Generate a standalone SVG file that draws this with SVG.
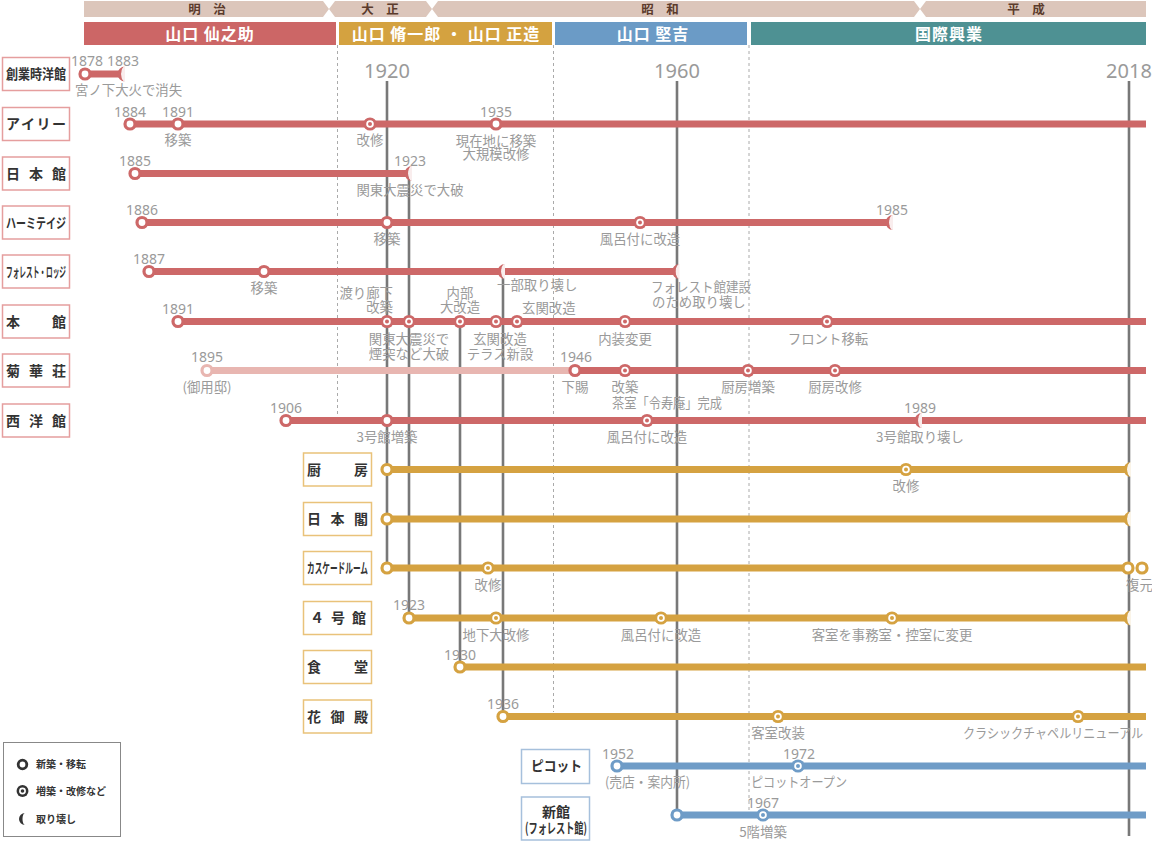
<svg xmlns="http://www.w3.org/2000/svg" width="1152" height="841" viewBox="0 0 1152 841">
<style>
text{font-family:"Noto Sans CJK JP","Noto Sans",sans-serif}
.era{fill:#dcc6bb}
.et{font-size:12.5px;font-weight:700;fill:#5b3b2c;text-anchor:middle}
.ot{font-size:16px;font-weight:700;fill:#fff;text-anchor:middle;letter-spacing:1px}
.big{font-family:"Noto Sans",sans-serif;font-size:20px;fill:#9a9a9a;text-anchor:middle}
.yr{font-family:"Noto Sans",sans-serif;font-size:14px;fill:#9a9a9a;text-anchor:middle}
.an{font-size:13.4px;fill:#9a9a9a;text-anchor:middle}
.st{text-anchor:start}
.en{text-anchor:end}
.gv{stroke:#787878;stroke-width:2.6}
.dl{stroke:#aaa;stroke-width:1;stroke-dasharray:3 3}
.ln{stroke:currentColor;stroke-width:7;fill:none}
.cr{color:#cd6868}
.cp{color:#e8b6b1}
.co{color:#d5a241}
.cb{color:#6f9cc7}
.box{fill:#fff;stroke-width:1.5}
.br{stroke:#e59e9e}
.bo{stroke:#e9c27a}
.bb{stroke:#a6c0dc}
.bt{font-size:14px;font-weight:700;fill:#333}
.lg{font-size:10px;font-weight:700;fill:#333}
</style>
<defs>
<circle id="o" r="5" fill="#fff" stroke="currentColor" stroke-width="3.2"/>
<g id="m"><circle r="6.6" fill="currentColor"/><circle r="3.8" fill="#fff"/><circle r="2" fill="currentColor"/></g>
<g id="d"><path d="M1,-7.5A4,7.5 0 0 0 1,7.5Z" fill="#fff"/><path d="M1,-7.5A4,7.5 0 0 0 1,7.5Z" fill="currentColor" fill-opacity="0.12"/><path d="M1,-7.5A7.5,7.5 0 0 0 1,7.5A4,7.5 0 0 1 1,-7.5Z" fill="currentColor"/></g>
</defs>

<g id="header">
<polygon class="era" points="84,1 323,1 329,9 323,17 84,17"/>
<polygon class="era" points="335,1 426,1 432,9 426,17 335,17 329,9"/>
<polygon class="era" points="438,1 914,1 920,9 914,17 438,17 432,9"/>
<polygon class="era" points="926,1 1146,1 1146,17 926,17 920,9"/>
<text class="et" x="207" y="13.5">明　治</text>
<text class="et" x="380" y="13.5">大　正</text>
<text class="et" x="660" y="13.5">昭　和</text>
<text class="et" x="1026" y="13.5">平　成</text>
<rect x="84" y="22" width="252" height="23" fill="#cc6666"/>
<rect x="339" y="22" width="213" height="23" fill="#d4a240"/>
<rect x="555" y="22" width="192" height="23" fill="#6b9bc6"/>
<rect x="751" y="22" width="395" height="23" fill="#4e9193"/>
<text class="ot" x="210" y="39.5">山口 仙之助</text>
<text class="ot" x="446" y="39.5">山口 脩一郎 ・ 山口 正造</text>
<text class="ot" x="653" y="39.5">山口 堅吉</text>
<text class="ot" x="949" y="39.5">国際興業</text>
<text class="big" x="387" y="78">1920</text>
<text class="big" x="677" y="78">1960</text>
<text class="big" x="1129" y="78">2018</text>
</g>

<g id="connectors">
<line class="dl" x1="337.5" y1="45" x2="337.5" y2="418"/>
<line class="dl" x1="553.5" y1="45" x2="553.5" y2="712"/>
<line class="dl" x1="749" y1="45" x2="749" y2="812"/>
<line class="gv" x1="387" y1="81" x2="387" y2="568"/>
<line class="gv" x1="409" y1="174" x2="409" y2="618"/>
<line class="gv" x1="460" y1="322" x2="460" y2="667"/>
<line class="gv" x1="503" y1="272" x2="503" y2="717"/>
<line class="gv" x1="677" y1="81" x2="677" y2="815"/>
<line class="gv" x1="1129" y1="81" x2="1129" y2="836"/>
</g>

<g id="sogyo">
<rect class="box br" x="2.5" y="57.5" width="67" height="33"/>
<text class="bt" x="6" y="79" textLength="60" lengthAdjust="spacingAndGlyphs">創業時洋館</text>
<line class="ln cr" x1="85" y1="74" x2="122" y2="74"/>
<use href="#o" x="85" y="74" class="cr"/>
<use href="#d" x="124" y="74" class="cr"/>
<text class="yr" x="87" y="66">1878</text>
<text class="yr" x="123" y="66">1883</text>
<text class="an st" x="75" y="95">宮ノ下大火で消失</text>
</g>

<g id="airy">
<rect class="box br" x="2.5" y="107.5" width="67" height="33"/>
<text class="bt" x="6" y="129" textLength="60" lengthAdjust="spacing">アイリー</text>
<line class="ln cr" x1="130" y1="124" x2="1146" y2="124"/>
<use href="#o" x="130" y="124" class="cr"/>
<use href="#o" x="178" y="124" class="cr"/>
<use href="#m" x="370" y="124" class="cr"/>
<use href="#o" x="496" y="124" class="cr"/>
<text class="yr" x="130" y="116.5">1884</text>
<text class="yr" x="178" y="116.5">1891</text>
<text class="an" x="178" y="145">移築</text>
<text class="an" x="370" y="145">改修</text>
<text class="yr" x="496" y="116.5">1935</text>
<text class="an" x="496" y="145.5">現在地に移築</text>
<text class="an" x="496" y="159">大規模改修</text>
</g>

<g id="nihonkan">
<rect class="box br" x="2.5" y="157" width="67" height="33"/>
<text class="bt" x="6" y="178.5" textLength="60" lengthAdjust="spacing">日本館</text>
<line class="ln cr" x1="135" y1="173.5" x2="408.5" y2="173.5"/>
<use href="#o" x="135" y="173.5" class="cr"/>
<use href="#d" x="411" y="173.5" class="cr"/>
<text class="yr" x="135" y="166">1885</text>
<text class="yr" x="410" y="166">1923</text>
<text class="an" x="410" y="195">関東大震災で大破</text>
</g>

<g id="hermitage">
<rect class="box br" x="2.5" y="206" width="67" height="33"/>
<text class="bt" x="6" y="227.5" textLength="60" lengthAdjust="spacingAndGlyphs">ハーミテイジ</text>
<line class="ln cr" x1="142" y1="222.5" x2="890" y2="222.5"/>
<use href="#o" x="142" y="222.5" class="cr"/>
<use href="#o" x="387" y="222.5" class="cr"/>
<use href="#m" x="640" y="222.5" class="cr"/>
<use href="#d" x="892" y="222.5" class="cr"/>
<text class="yr" x="142" y="215">1886</text>
<text class="an" x="387" y="244">移築</text>
<text class="an" x="640" y="244">風呂付に改造</text>
<text class="yr" x="892" y="215">1985</text>
</g>

<g id="forest-lodge">
<rect class="box br" x="2.5" y="255" width="67" height="33"/>
<text class="bt" x="6" y="276.5" textLength="60" lengthAdjust="spacingAndGlyphs">フォレスト・ロッジ</text>
<line class="ln cr" x1="149" y1="271.5" x2="676.5" y2="271.5"/>
<use href="#o" x="149" y="271.5" class="cr"/>
<use href="#o" x="264" y="271.5" class="cr"/>
<use href="#d" x="504" y="271.5" class="cr"/>
<use href="#d" x="678.5" y="271.5" class="cr"/>
<text class="yr" x="149" y="264">1887</text>
<text class="an" x="264" y="293">移築</text>
<text class="an st" x="497" y="290">一部取り壊し</text>
<text class="an st" x="651" y="292" textLength="100" lengthAdjust="spacingAndGlyphs">フォレスト館建設</text>
<text class="an st" x="652" y="306.5">のため取り壊し</text>
</g>

<g id="honkan">
<rect class="box br" x="2.5" y="305" width="67" height="33"/>
<text class="bt" x="6" y="326.5" textLength="60" lengthAdjust="spacing">本館</text>
<line class="ln cr" x1="178" y1="321.5" x2="1146" y2="321.5"/>
<use href="#o" x="178" y="321.5" class="cr"/>
<use href="#m" x="387" y="321.5" class="cr"/>
<use href="#m" x="409" y="321.5" class="cr"/>
<use href="#m" x="460" y="321.5" class="cr"/>
<use href="#m" x="496" y="321.5" class="cr"/>
<use href="#m" x="517" y="321.5" class="cr"/>
<use href="#m" x="625" y="321.5" class="cr"/>
<use href="#m" x="827" y="321.5" class="cr"/>
<text class="yr" x="178" y="314">1891</text>
<text class="an en" x="393" y="297.5">渡り廊下</text>
<text class="an en" x="393" y="312">改築</text>
<text class="an" x="460" y="297.5">内部</text>
<text class="an" x="460" y="312">大改造</text>
<text class="an st" x="522" y="313">玄関改造</text>
<text class="an" x="409" y="344">関東大震災で</text>
<text class="an" x="409" y="359">煙突など大破</text>
<text class="an" x="500" y="344">玄関改造</text>
<text class="an" x="500" y="359">テラス新設</text>
<text class="an" x="625" y="344">内装変更</text>
<text class="an" x="828" y="344">フロント移転</text>
</g>

<g id="kikkaso">
<rect class="box br" x="2.5" y="354" width="67" height="33"/>
<text class="bt" x="6" y="375.5" textLength="60" lengthAdjust="spacing">菊華荘</text>
<line class="ln cp" x1="207" y1="370.5" x2="575" y2="370.5"/>
<line class="ln cr" x1="575" y1="370.5" x2="1146" y2="370.5"/>
<use href="#o" x="207" y="370.5" class="cp"/>
<use href="#o" x="575" y="370.5" class="cr"/>
<use href="#m" x="625" y="370.5" class="cr"/>
<use href="#m" x="748" y="370.5" class="cr"/>
<use href="#m" x="835" y="370.5" class="cr"/>
<text class="yr" x="207" y="362">1895</text>
<text class="an" x="207" y="392">(御用邸)</text>
<text class="yr" x="576" y="362">1946</text>
<text class="an" x="575" y="392">下賜</text>
<text class="an" x="625" y="392">改築</text>
<text class="an st" x="612" y="407.5" textLength="110" lengthAdjust="spacingAndGlyphs">茶室「令寿庵」完成</text>
<text class="an" x="748" y="392">厨房増築</text>
<text class="an" x="835" y="392">厨房改修</text>
</g>

<g id="seiyokan">
<rect class="box br" x="2.5" y="404" width="67" height="33"/>
<text class="bt" x="6" y="425.5" textLength="60" lengthAdjust="spacing">西洋館</text>
<line class="ln cr" x1="286" y1="420.5" x2="1146" y2="420.5"/>
<use href="#o" x="286" y="420.5" class="cr"/>
<use href="#o" x="387" y="420.5" class="cr"/>
<use href="#m" x="647" y="420.5" class="cr"/>
<use href="#d" x="921" y="420.5" class="cr"/>
<text class="yr" x="286" y="413">1906</text>
<text class="an" x="387" y="442">3号館増築</text>
<text class="an" x="647" y="442">風呂付に改造</text>
<text class="yr" x="920" y="413">1989</text>
<text class="an" x="920" y="442">3号館取り壊し</text>
</g>

<g id="chubo">
<rect class="box bo" x="303.5" y="453" width="68" height="33"/>
<text class="bt" x="307" y="474.5" textLength="61" lengthAdjust="spacing">厨房</text>
<line class="ln co" x1="387" y1="469.5" x2="1128" y2="469.5"/>
<use href="#o" x="387" y="469.5" class="co"/>
<use href="#m" x="906" y="469.5" class="co"/>
<use href="#d" x="1130" y="469.5" class="co"/>
<text class="an" x="906" y="491">改修</text>
</g>

<g id="nihonkaku">
<rect class="box bo" x="303.5" y="502.5" width="68" height="33"/>
<text class="bt" x="307" y="524" textLength="61" lengthAdjust="spacing">日本閣</text>
<line class="ln co" x1="387" y1="519" x2="1128" y2="519"/>
<use href="#o" x="387" y="519" class="co"/>
<use href="#d" x="1130" y="519" class="co"/>
</g>

<g id="cascade-room">
<rect class="box bo" x="303.5" y="551.5" width="68" height="33"/>
<text class="bt" x="307" y="573" textLength="61" lengthAdjust="spacingAndGlyphs">カスケードルーム</text>
<line class="ln co" x1="387" y1="568" x2="1128" y2="568"/>
<use href="#o" x="387" y="568" class="co"/>
<use href="#m" x="488" y="568" class="co"/>
<use href="#o" x="1128" y="568" class="co"/>
<use href="#o" x="1142" y="568" class="co"/>
<text class="an" x="488" y="590">改修</text>
<text class="an st" x="1126" y="590">復元</text>
</g>

<g id="yongokan">
<rect class="box bo" x="303.5" y="601.5" width="68" height="33"/>
<text class="bt" x="310" y="623" textLength="56" lengthAdjust="spacing">４号館</text>
<line class="ln co" x1="409" y1="618" x2="1128" y2="618"/>
<use href="#o" x="409" y="618" class="co"/>
<use href="#m" x="496" y="618" class="co"/>
<use href="#m" x="661" y="618" class="co"/>
<use href="#m" x="892" y="618" class="co"/>
<use href="#d" x="1130" y="618" class="co"/>
<text class="yr" x="409" y="610">1923</text>
<text class="an" x="496" y="640">地下大改修</text>
<text class="an" x="661" y="640">風呂付に改造</text>
<text class="an" x="892" y="640">客室を事務室・控室に変更</text>
</g>

<g id="shokudo">
<rect class="box bo" x="303.5" y="650.5" width="68" height="33"/>
<text class="bt" x="307" y="672" textLength="61" lengthAdjust="spacing">食堂</text>
<line class="ln co" x1="460" y1="667" x2="1146" y2="667"/>
<use href="#o" x="460" y="667" class="co"/>
<text class="yr" x="460" y="659.5">1930</text>
</g>

<g id="hanagoten">
<rect class="box bo" x="303.5" y="700" width="68" height="33"/>
<text class="bt" x="307" y="721.5" textLength="61" lengthAdjust="spacing">花御殿</text>
<line class="ln co" x1="503" y1="716.5" x2="1146" y2="716.5"/>
<use href="#o" x="503" y="716.5" class="co"/>
<use href="#m" x="778" y="716.5" class="co"/>
<use href="#m" x="1078" y="716.5" class="co"/>
<text class="yr" x="503" y="709">1936</text>
<text class="an" x="778" y="738">客室改装</text>
<text class="an st" x="963" y="738" textLength="180" lengthAdjust="spacingAndGlyphs">クラシックチャペルリニューアル</text>
</g>

<g id="picot">
<rect class="box bb" x="521.5" y="749.5" width="68" height="34"/>
<text class="bt" x="531" y="771" textLength="51" lengthAdjust="spacingAndGlyphs">ピコット</text>
<line class="ln cb" x1="617" y1="766" x2="1146" y2="766"/>
<use href="#o" x="617" y="766" class="cb"/>
<use href="#m" x="798" y="766" class="cb"/>
<text class="yr" x="618" y="758.5">1952</text>
<text class="an st" x="605" y="787" textLength="85" lengthAdjust="spacingAndGlyphs">(売店・案内所)</text>
<text class="yr" x="799" y="758.5">1972</text>
<text class="an" x="799" y="787" textLength="96" lengthAdjust="spacingAndGlyphs">ピコットオープン</text>
</g>

<g id="shinkan">
<rect class="box bb" x="521.5" y="797" width="68" height="43"/>
<text class="bt" x="556" y="816.5" font-size="15" text-anchor="middle">新館</text>
<text class="bt" x="525" y="833" font-size="10" textLength="62" lengthAdjust="spacingAndGlyphs">(フォレスト館)</text>
<line class="ln cb" x1="677" y1="815" x2="1146" y2="815"/>
<use href="#o" x="677" y="815" class="cb"/>
<use href="#m" x="763" y="815" class="cb"/>
<text class="yr" x="763" y="807.5">1967</text>
<text class="an" x="763" y="837">5階増築</text>
</g>

<g id="legend" style="color:#333">
<rect x="3.5" y="742.5" width="117" height="94" fill="#fff" stroke="#888" stroke-width="1"/>
<circle cx="22.5" cy="764.5" r="4.3" fill="#fff" stroke="#333" stroke-width="2.8"/>
<use href="#m" x="22.5" y="791" transform="translate(22.5 791) scale(0.9) translate(-22.5 -791)"/>
<path d="M25,813A6,6 0 0 0 25,825A2.5,6 0 0 1 25,813Z" fill="#333"/>
<text class="lg" x="36" y="768">新築・移転</text>
<text class="lg" x="36" y="795">増築・改修など</text>
<text class="lg" x="36" y="822.5">取り壊し</text>
</g>
</svg>
